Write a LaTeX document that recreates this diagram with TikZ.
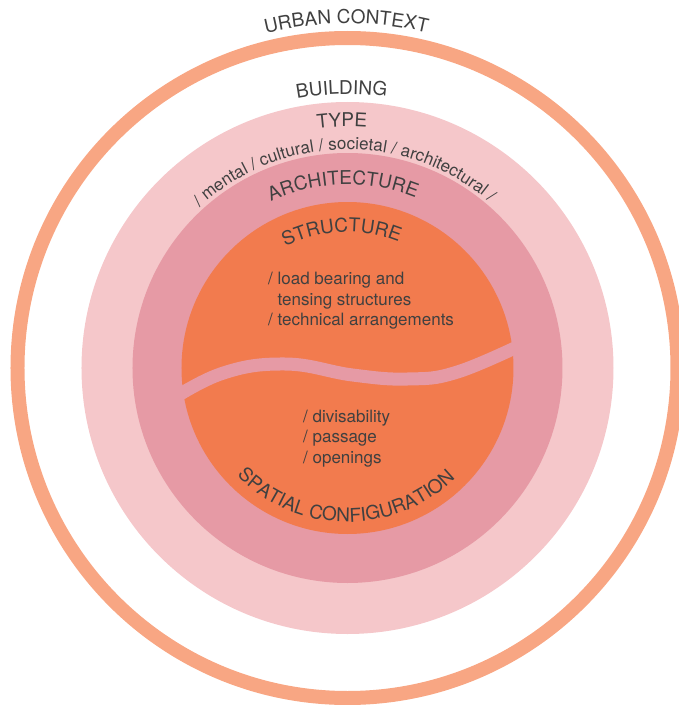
\documentclass[tikz,border=0pt]{standalone}
\usepackage{fontspec}
\setmainfont{TeX Gyre Heros}
\usetikzlibrary{decorations.text}
\definecolor{ringsalmon}{HTML}{F8A683}
\definecolor{typepink}{HTML}{F5C7CA}
\definecolor{archpink}{HTML}{E69AA5}
\definecolor{coreorange}{HTML}{F27B4E}
\definecolor{ink}{HTML}{404040}
\newcommand{\capsfont}{\fontsize{19}{22}\selectfont}
\newcommand{\notefont}{\fontsize{17}{20.5}\selectfont}
\tikzset{
  contextring/.style={draw=ringsalmon, line width=14pt},
  typedisk/.style={fill=typepink},
  archdisk/.style={fill=archpink},
  coredisk/.style={fill=coreorange},
  seam/.style={draw=archpink, line width=13pt, line cap=round},
  arclabel/.style 2 args={decorate, decoration={text along path, text align=center,
    text color=ink, text={|#1|#2}}},
  notes/.style={font=\notefont, text=ink, align=left, anchor=base west, inner sep=0pt},
}

\begin{document}
\begin{tikzpicture}[x=1pt, y=1pt]
  \useasboundingbox (-347.5,-337) rectangle (331.5,368);
  \clip (-347.5,-337) rectangle (331.5,368);
  % urban context ring and the nested disks
  \draw[contextring] (0,0) circle[radius=330];
  \fill[typedisk] (0,0) circle[radius=266];
  \fill[archdisk] (0,0) circle[radius=215];
  \fill[coredisk] (0,0) circle[radius=166];
  % wavy seam splitting structure / spatial configuration
  \draw[seam] plot[smooth, tension=0.7] coordinates
    {(-186,-38) (-127,-6) (-62,4) (5,-7) (60,-11) (110,-4) (182,27)};
  % curved labels on top arcs
  \path[arclabel={\capsfont}{URBAN CONTEXT}]
    (180.2:344.5) arc[start angle=180.2, end angle=0.2, radius=344.5];
  \path[arclabel={\capsfont}{BUILDING}]
    (181.2:274) arc[start angle=181.2, end angle=1.2, radius=274];
  \path[arclabel={\capsfont}{TYPE}]
    (181.3:241.5) arc[start angle=181.3, end angle=1.3, radius=241.5];
  \path[arclabel={\notefont}{/ mental / cultural / societal / architectural /}]
    (181:218.5) arc[start angle=181, end angle=1, radius=218.5];
  \path[arclabel={\capsfont}{ARCHITECTURE}]
    (181.4:183.5) arc[start angle=181.4, end angle=1.4, radius=183.5];
  \path[arclabel={\capsfont}{STRUCTURE}]
    (182.5:136) arc[start angle=182.5, end angle=2.5, radius=136];
  % bottom arc, read left to right
  \path[arclabel={\capsfont}{SPATIAL CONFIGURATION}]
    (179.3:154) arc[start angle=179.3, end angle=359.3, radius=154];
  % notes inside the two halves (anchored on the last line)
  \node[notes] (structnotes) at (-79.5,42.5)
    {/ load bearing and\\\hphantom{/ }tensing structures\\/ technical arrangements};
  \node[notes] (spatialnotes) at (-44.5,-95) {/ divisability\\/ passage\\/ openings};
\end{tikzpicture}
\end{document}
